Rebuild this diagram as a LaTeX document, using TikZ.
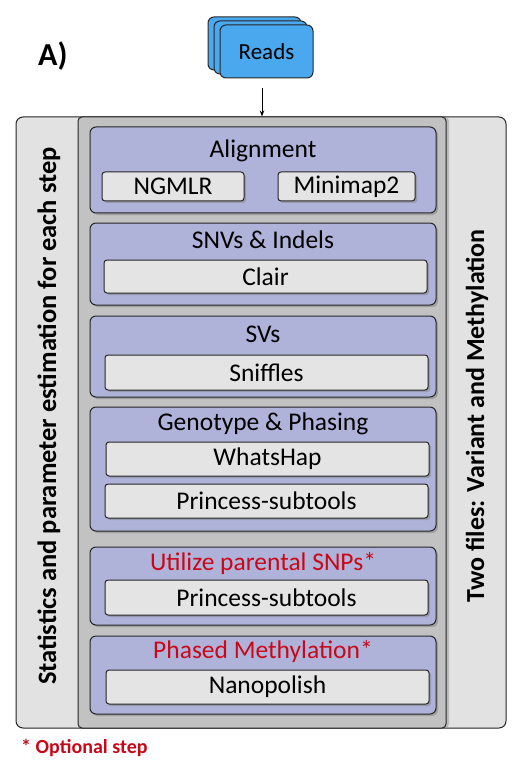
\documentclass[tikz,border=0pt]{standalone}
\usepackage{fontspec}
\setmainfont{Carlito}
\usetikzlibrary{shadows,arrows.meta}
\definecolor{outergray}{HTML}{E2E2E2}
\definecolor{midgray}{HTML}{C2C2C2}
\definecolor{stepblue}{HTML}{B0B3D9}
\definecolor{toolgray}{HTML}{E4E4E4}
\definecolor{readblue}{HTML}{4AA8EE}
\definecolor{optred}{HTML}{C80818}
\tikzset{
  panel/.style={draw=black!85, line width=1pt, rounded corners=7pt, inner sep=0pt},
  stepbox/.style={draw=black!85, fill=stepblue, line width=1pt, rounded corners=6pt, inner sep=0pt, minimum width=346pt,
    drop shadow={shadow xshift=2pt, shadow yshift=-2pt, opacity=0.5}},
  toolbox/.style={draw=black!85, fill=toolgray, line width=1pt, rounded corners=3pt, inner sep=0pt,
    drop shadow={shadow xshift=2pt, shadow yshift=-2pt, opacity=0.5}, font=\fontsize{25.5}{28}\selectfont},
  steptitle/.style={font=\fontsize{25.5}{28}\selectfont, inner sep=0pt, anchor=center},
  readbox/.style={draw=black!85, fill=readblue, line width=1pt, rounded corners=6pt, minimum width=93pt, minimum height=53pt, inner sep=0pt},
}
\begin{document}
\begin{tikzpicture}[x=1pt,y=-1pt]
\useasboundingbox (0,0) rectangle (529,767);
% panels
\node[panel, fill=outergray, minimum width=490pt, minimum height=611pt] (outer) at (261,422.5) {};
\node[panel, fill=midgray, rounded corners=4pt, minimum width=368pt, minimum height=611pt,
  drop shadow={shadow xshift=3pt, shadow yshift=0pt, opacity=0.4}] (mid) at (262,422.5) {};
% side texts
\node[rotate=90, font=\bfseries\fontsize{26.5}{30}\selectfont] (lefttext) at (49,416) {Statistics and parameter estimation for each step};
\node[rotate=90, font=\bfseries\fontsize{26}{30}\selectfont] (righttext) at (477,416) {Two files: Variant and Methylation};
% reads
\node[readbox] (r3) at (254.5,43.5) {};
\node[readbox] (r2) at (260.5,47.5) {};
\node[readbox, font=\fontsize{23}{26}\selectfont] (reads) at (266.5,51.5) {Reads};
\coordinate (arrtop) at (262,88);
\draw[-{Stealth[length=6pt,width=4.5pt]}, line width=1pt] (arrtop) -- (mid.north -| arrtop) ;
% A)
\node[font=\bfseries\fontsize{32}{36}\selectfont, anchor=west, inner sep=0pt] (lbl) at (38,56) {A)};
% steps
\node[stepbox, minimum height=86pt] (s1) at (263,170) {};
\node[steptitle] (t1) at (263,151) {Alignment};
\node[toolbox, minimum width=142pt, minimum height=29pt] (ngmlr) at (173,186.5) {NGMLR};
\node[toolbox, minimum width=137pt, minimum height=29pt] (minimap) at (346.5,186.5) {Minimap2};

\node[stepbox, minimum height=82pt] (s2) at (263,264) {};
\node[steptitle] (t2) at (263,240) {SNVs \& Indels};
\node[toolbox, minimum width=323pt, minimum height=33pt] (clair) at (265.5,276.5) {Clair};

\node[stepbox, minimum height=81pt] (s3) at (263,356.5) {};
\node[steptitle] (t3) at (263,334) {SVs};
\node[toolbox, minimum width=323pt, minimum height=35pt] (sniffles) at (266.5,372.5) {Sniffles};

\node[stepbox, minimum height=124pt] (s4) at (263,469) {};
\node[steptitle] (t4) at (263,424) {Genotype \& Phasing};
\node[toolbox, minimum width=323pt, minimum height=34pt] (whatshap) at (267.5,459) {WhatsHap};
\node[toolbox, minimum width=323pt, minimum height=34pt] (princess1) at (266.5,501) {Princess-subtools};

\node[stepbox, minimum height=78pt] (s5) at (263,586) {};
\node[steptitle, text=optred] (t5) at (263,563) {Utilize parental SNPs*};
\node[toolbox, minimum width=323pt, minimum height=35pt] (princess2) at (266.5,597.5) {Princess-subtools};

\node[stepbox, minimum height=78pt] (s6) at (263,675) {};
\node[steptitle, text=optred] (t6) at (263,651) {Phased Methylation*};
\node[toolbox, minimum width=323pt, minimum height=34pt] (nanopolish) at (267.5,687) {Nanopolish};
% footnote
\node[font=\bfseries\fontsize{20}{22}\selectfont, text=optred, anchor=west, inner sep=0pt] (opt) at (21,748) {* Optional step};
\end{tikzpicture}
\end{document}
